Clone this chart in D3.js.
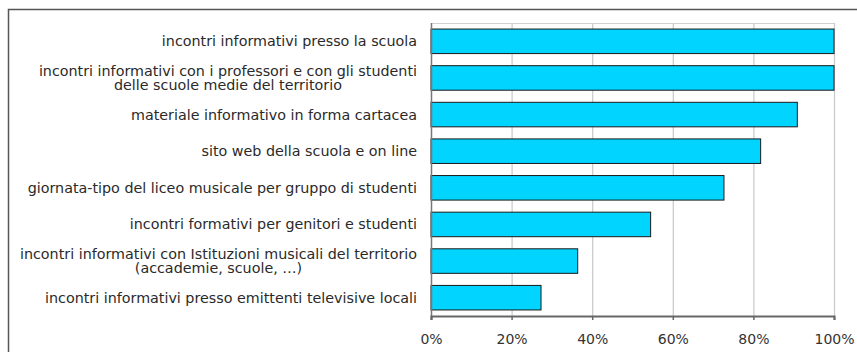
<!DOCTYPE html>
<html>
<head>
<meta charset="utf-8">
<script src="https://cdn.jsdelivr.net/npm/d3@7"></script>
<style>
  html, body { margin: 0; padding: 0; background: #fff; }
  svg { display: block; }
</style>
</head>
<body>
<svg id="chart" width="857" height="352"></svg>
<script>
// Categories (each entry is a list of text lines), top to bottom
const categories = [
  ["incontri informativi presso la scuola"],
  ["incontri informativi con i professori e con gli studenti", "delle scuole medie del territorio"],
  ["materiale informativo in forma cartacea"],
  ["sito web della scuola e on line"],
  ["giornata-tipo del liceo musicale per gruppo di studenti"],
  ["incontri formativi per genitori e studenti"],
  ["incontri informativi con Istituzioni musicali del territorio", "(accademie, scuole, \u2026)"],
  ["incontri informativi presso emittenti televisive locali"]
];
// Share of respondents (%)
const values = [100, 100, 90.9, 81.8, 72.7, 54.5, 36.4, 27.3];
const ticks = [0, 20, 40, 60, 80, 100];

const svg = d3.select("#chart");
const font = "'DejaVu Sans', Verdana, sans-serif";

// outer frame (runs off the right and bottom edges)
svg.append("path")
  .attr("d", "M8.5,352 L8.5,9.5 L857,9.5")
  .attr("fill", "none")
  .attr("stroke", "#555")
  .attr("stroke-width", 1.5);

const m = { left: 431, right: 834, top: 23, bottom: 316 };

const x = d3.scaleLinear().domain([0, 100]).range([m.left, m.right]);
const y = d3.scaleBand().domain(d3.range(categories.length))
  .range([m.top, m.bottom]).paddingInner(0.33).paddingOuter(0.165);

// vertical gridlines
svg.append("g").selectAll("line").data(ticks.slice(1)).join("line")
  .attr("x1", d => x(d) + 0.5).attr("x2", d => x(d) + 0.5)
  .attr("y1", m.top).attr("y2", m.bottom)
  .attr("stroke", "#c8c8c8").attr("stroke-width", 1.2);

// top border of plot area
svg.append("line")
  .attr("x1", m.left).attr("x2", m.right + 0.5)
  .attr("y1", m.top + 0.5).attr("y2", m.top + 0.5)
  .attr("stroke", "#d0d0d0").attr("stroke-width", 1.2);

// bars
svg.append("g").selectAll("rect").data(values).join("rect")
  .attr("x", x(0))
  .attr("y", (d, i) => y(i))
  .attr("width", d => x(d) - x(0))
  .attr("height", y.bandwidth())
  .attr("fill", "#00d4ff")
  .attr("stroke", "#1a1a1a")
  .attr("stroke-width", 1);

// left axis line
svg.append("line")
  .attr("x1", m.left + 0.5).attr("x2", m.left + 0.5)
  .attr("y1", m.top).attr("y2", m.bottom + 4)
  .attr("stroke", "#777").attr("stroke-width", 1.5);

// bottom axis
const xAxis = d3.axisBottom(x).tickValues(ticks).tickFormat(d => d + "%")
  .tickSize(4).tickPadding(14);
const gx = svg.append("g").attr("transform", `translate(0,${m.bottom})`).call(xAxis);
gx.select(".domain").attr("stroke", "#666").attr("stroke-width", 2);
gx.selectAll(".tick line").attr("stroke", "#666").attr("stroke-width", 1.5);
gx.selectAll(".tick text")
  .attr("fill", "#333")
  .style("font-family", font)
  .style("font-size", "14px");

// category labels: right-aligned block, lines centred within the block
const labelRight = 417;
const lh = 14.5;
const lab = svg.append("g").selectAll("text").data(categories).join("text")
  .attr("text-anchor", "middle")
  .attr("fill", "#2a2a2a")
  .style("font-family", font)
  .style("font-size", "14.3px");
lab.each(function (lines, i) {
  const cy = y(i) + y.bandwidth() / 2;
  const y0 = cy - (lines.length - 1) * lh / 2;
  const ts = d3.select(this).selectAll("tspan").data(lines).join("tspan")
    .attr("y", (d, j) => y0 + j * lh)
    .attr("dy", "0.35em")
    .text(d => d);
  let w = 0;
  ts.each(function () { w = Math.max(w, this.getComputedTextLength()); });
  ts.attr("x", labelRight - w / 2);
});
</script>
</body>
</html>
